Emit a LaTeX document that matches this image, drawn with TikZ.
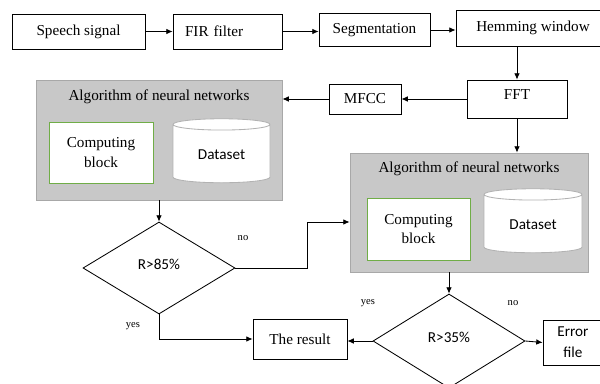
\documentclass[tikz,border=0pt]{standalone}
\usepackage{fontspec}
\setmainfont{Liberation Serif}
\newfontfamily\calibri{Carlito}
\usetikzlibrary{arrows.meta}
\usetikzlibrary{shapes.geometric}

\definecolor{blockgreen}{RGB}{112,173,71}
\definecolor{grpfill}{RGB}{200,200,200}
\definecolor{grpline}{RGB}{168,168,168}

\tikzset{
  wh/.style 2 args={minimum width=#1*0.025cm, minimum height=#2*0.025cm},
  box/.style={draw, line width=0.6pt, fill=white, inner sep=2pt},
  grp/.style={draw=grpline, fill=grpfill, line width=0.6pt},
  calc block/.style={draw=blockgreen, line width=0.7pt, fill=white, align=center, inner sep=1pt,
    font=\rmfamily\fontsize{10.8}{14}\selectfont},
  base/.style={cylinder, shape border rotate=90, aspect=0.2, draw=gray!60, fill=white,
    line width=0.6pt, font=\calibri\fontsize{10.8}{13}\selectfont},
  decision/.style={diamond, draw, line width=0.6pt, inner sep=0pt,
    font=\calibri\fontsize{10.8}{13}\selectfont},
  tag/.style={font=\fontsize{7.5}{9}\selectfont},
  flow/.style={->, line width=0.6pt},
}

\begin{document}
\begin{tikzpicture}[x=0.025cm, y=-0.025cm, >={Latex[length=4.5pt, width=4pt]},
  font=\fontsize{10.8}{13}\selectfont]
\useasboundingbox (0,0) rectangle (600,383);
\clip (0,0) rectangle (600,383);

% preprocessing chain
\node[box, wh={133}{35}] (speech) at (78.5,31.5) {Speech signal};
\node[box, wh={109}{35}, text width=85*0.025cm, align=left] (fir) at (227.5,31.5) {FIR filter};
\node[box, wh={111}{33}] (seg) at (374.5,30) {Segmentation};
\node[box, wh={154}{36}] (hem) at (533,28) {Hemming window};
\node[box, wh={100}{38}] (fft) at (517,99) {\raisebox{6pt}{FFT}};
\node[box, wh={72}{30}] (mfcc) at (365,99) {MFCC};

% first network
\node[grp, wh={246}{120}] (net1) at (159,140) {};
\node (title1) at (159,97) {Algorithm of neural networks};
\node[calc block, wh={104}{61}] (comp1) at (101,152.5) {Computing\\block};
\node[base, wh={97}{64}] (data1) at (221.5,155) {Dataset};

% second network
\node[grp, wh={238}{119}] (net2) at (469,212.5) {};
\node (title2) at (469,169) {Algorithm of neural networks};
\node[calc block, wh={103}{62}] (comp2) at (418.5,229) {Computing\\block};
\node[base, wh={98}{64}] (data2) at (533,225) {Dataset};

% decisions and outputs
\node[decision, wh={152}{92}] (d1) at (159,268) {\raisebox{5pt}{R>85\%}};
\node[decision, wh={152}{94}] (d2) at (449,341) {\raisebox{5pt}{R>35\%}};
\node[box, wh={94}{40}] (result) at (300,339) {The result};
\node[box, wh={60}{45}, align=center, font=\calibri\fontsize{10.8}{15}\selectfont] (err) at (573,342.5) {Error\\file};
\coordinate (kink) at (307,222);

\draw[flow] (speech.east) -- (fir.west);
\draw[flow] (fir.east) -- (fir.east -| seg.west);
\draw[flow] (seg.east) -- (seg.east -| hem.west);
\draw[flow] (fft.north |- hem.south) -- (fft.north);
\draw[flow] (fft.west) -- (mfcc.east);
\draw[flow] (mfcc.west) -- (mfcc.west -| net1.east);
\draw[flow] (fft.south) -- (fft.south |- net2.north);
\draw[flow] (net1.south) -- (d1.north);
\draw[flow] (d1.east) -| (kink) -- (kink -| net2.west);
\draw[flow] (d1.south) |- (result.west);
\draw[flow] (net2.south -| d2.north) -- (d2.north);
\draw[flow] (d2.west) -- (d2.west -| result.east);
\draw[flow] (d2.east) -- (err.west);

\node[tag] (no1) at (243,238) {no};
\node[tag] (yes1) at (133,326) {yes};
\node[tag] (yes2) at (368,303) {yes};
\node[tag] (no2) at (513,303) {no};
\end{tikzpicture}
\end{document}
